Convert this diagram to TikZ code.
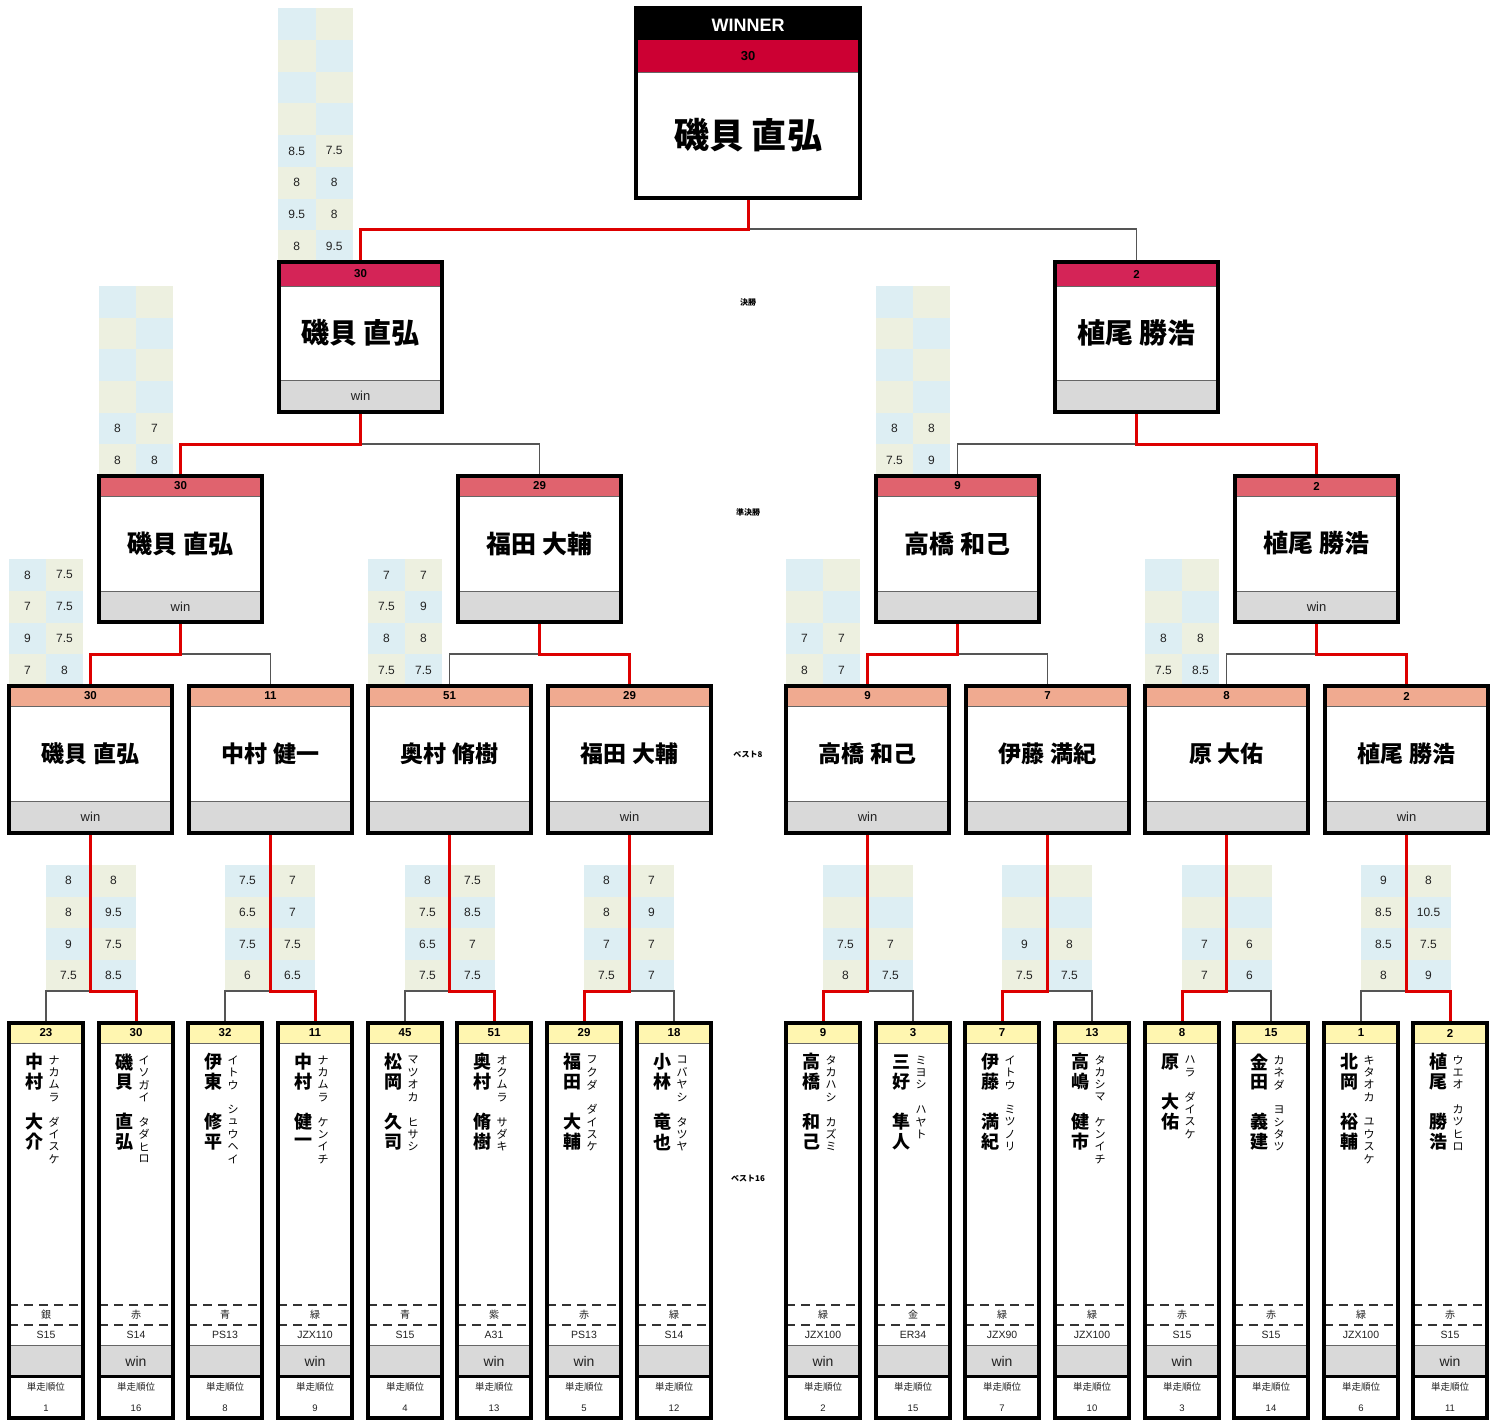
\documentclass[tikz,border=0pt]{standalone}
\usepackage{fontspec}
\setmainfont{Liberation Sans}
\newfontfamily\jp{Noto Sans CJK JP}
\definecolor{wred}{HTML}{CC0033}
\definecolor{fhead}{HTML}{D42457}
\definecolor{shead}{HTML}{E0636E}
\definecolor{ehead}{HTML}{F0AA90}
\definecolor{yhead}{HTML}{FFF6B0}
\definecolor{gfill}{HTML}{D9D9D9}
\definecolor{cblue}{HTML}{DDEEF3}
\definecolor{cbeige}{HTML}{EDF0E0}
\definecolor{lred}{HTML}{DD0000}
\definecolor{lgray}{HTML}{555555}
\definecolor{txt}{HTML}{222222}
\pgfdeclarelayer{bg}
\pgfdeclarelayer{conn}
\pgfsetlayers{bg,conn,main}
\tikzset{
 frame/.style={draw=black, line width=3.2pt, inner sep=0pt, outer sep=0pt, rectangle},
 redl/.style={draw=lred, line width=3pt},
 grayl/.style={draw=lgray, line width=1.5pt},
 sc/.style={font=\fontsize{12}{12}\selectfont, text=txt, inner sep=0pt},
 hnum/.style={font=\bfseries\fontsize{11.5}{12}\selectfont, inner sep=0pt},
 wintxt/.style={font=\fontsize{13}{13}\selectfont, text=txt, inner sep=0pt},
 kj/.style={font=\jp\bfseries\fontsize{18}{18}\selectfont, inner sep=0pt},
 kn/.style={font=\jp\fontsize{11}{11}\selectfont, inner sep=0pt},
 coltxt/.style={font=\jp\fontsize{10}{10}\selectfont, text=txt, inner sep=0pt},
 cartxt/.style={font=\fontsize{10.5}{11}\selectfont, text=txt, inner sep=0pt},
 ranklab/.style={font=\jp\fontsize{9.5}{10}\selectfont, text=txt, inner sep=0pt},
 ranknum/.style={font=\fontsize{9.5}{10}\selectfont, text=txt, inner sep=0pt},
 rlab/.style={font=\jp\bfseries\fontsize{8}{8}\selectfont, inner sep=0pt},
 dashline/.style={draw=black!80, line width=1.2pt, dash pattern=on 9pt off 6pt},
 sepline/.style={draw=black!60, line width=0.9pt},
}
% score table: #1 name, #2 x, #3 y, #4 column width, #5 row height, #6 list a/b
\newcommand\stab[6]{%
 \foreach \sa/\sb [count=\ki] in {#6} {%
  \pgfmathtruncatemacro\odd{mod(\ki,2)}%
  \ifnum\odd=1 \def\cla{cblue}\def\clb{cbeige}\else\def\cla{cbeige}\def\clb{cblue}\fi
  \fill[\cla] (#2,{#3+(\ki-1)*#5}) rectangle ({#2+#4},{#3+\ki*#5});
  \fill[\clb] ({#2+#4},{#3+(\ki-1)*#5}) rectangle ({#2+2*#4},{#3+\ki*#5});
  \node[sc] (#1a\ki) at ({#2+#4/2},{#3+(\ki-0.5)*#5}) {\sa};
  \node[sc] (#1b\ki) at ({#2+1.5*#4},{#3+(\ki-0.5)*#5}) {\sb};
 }%
}
% round box: #1 name #2 x #3 y #4 colour #5 number #6 name #7 font size #8 win
\newcommand\rbox[8]{%
 \fill[#4] (#2,#3) rectangle ({#2+163},{#3+\hdr});
 \fill[gfill] (#2,{#3+\tot-\gry}) rectangle ({#2+163},{#3+\tot});
 \draw[sepline] (#2,{#3+\hdr}) -- ++(163,0);
 \draw[sepline] (#2,{#3+\tot-\gry}) -- ++(163,0);
 \node[frame, minimum width=163pt, minimum height={\tot*1pt}, anchor=north west] (#1) at (#2,#3) {};
 \node[hnum] (#1num) at ({#2+81.5},{#3+\hdr/2}) {#5};
 \node[font=\jp\bfseries\fontsize{#7}{#7}\selectfont, inner sep=0pt] (#1name) at ({#2+81.5},{#3+(\hdr+\tot-\gry)/2}) {#6};
 \node[wintxt] (#1win) at ({#2+81.5},{#3+\tot-\gry/2}) {#8};
}
% best16 box: #1 name #2 x #3 number #4 kanji #5 kana #6 colour #7 car #8 win #9 rank
\newcommand\kbox[9]{%
 \fill[yhead] (#2,1023) rectangle ({#2+74},1043);
 \fill[gfill] (#2,1345) rectangle ({#2+74},1376);
 \draw[sepline] (#2,1043) -- ++(74,0);
 \draw[sepline] (#2,1345) -- ++(74,0);
 \draw[dashline] (#2,1305) -- ++(74,0);
 \draw[dashline] (#2,1325) -- ++(74,0);
 \draw[line width=3pt] (#2,1376) -- ++(74,0);
 \node[frame, minimum width=74pt, minimum height=395pt, anchor=north west] (#1) at (#2,1023) {};
 \node[hnum] (#1num) at ({#2+37},1033) {#3};
 \foreach \kc [count=\ki] in {#4} {\node[kj] (#1k\ki) at ({#2+25},{1062+(\ki-1)*20}) {\kc};}
 \foreach \kc [count=\ki] in {#5} {\node[kn] (#1r\ki) at ({#2+45},{1060+(\ki-1)*12.4}) {\kc};}
 \node[coltxt] (#1col) at ({#2+37},1315) {#6};
 \node[cartxt] (#1car) at ({#2+37},1335) {#7};
 \node[wintxt, font=\fontsize{14}{14}\selectfont] (#1win) at ({#2+37},1361) {#8};
 \node[ranklab] (#1lab) at ({#2+37},1387) {単走順位};
 \node[ranknum] (#1rank) at ({#2+37},1408) {#9};
}
\begin{document}
\begin{tikzpicture}[x=1pt,y=-1pt]
\useasboundingbox (0,0) rectangle (1498,1421);

% ---------- background and score tables ----------
\begin{pgfonlayer}{bg}
\fill[white] (0,0) rectangle (1498,1421);
\stab{tf}{278}{8}{37.5}{31.75}{~/~,~/~,~/~,~/~,8.5/7.5,8/8,9.5/8,8/9.5}
\stab{tsa}{99}{286}{37}{31.67}{~/~,~/~,~/~,~/~,8/7,8/8}
\stab{tsb}{876}{286}{37}{31.67}{~/~,~/~,~/~,~/~,8/8,7.5/9}
\stab{tea}{9}{559}{37}{31.75}{8/7.5,7/7.5,9/7.5,7/8}
\stab{teb}{368}{559}{37}{31.75}{7/7,7.5/9,8/8,7.5/7.5}
\stab{tec}{786}{559}{37}{31.75}{~/~,~/~,7/7,8/7}
\stab{ted}{1145}{559}{37}{31.75}{~/~,~/~,8/8,7.5/8.5}
\stab{tqa}{46}{865}{45}{31.6}{8/8,8/9.5,9/7.5,7.5/8.5}
\stab{tqb}{225}{865}{45}{31.6}{7.5/7,6.5/7,7.5/7.5,6/6.5}
\stab{tqc}{405}{865}{45}{31.6}{8/7.5,7.5/8.5,6.5/7,7.5/7.5}
\stab{tqd}{584}{865}{45}{31.6}{8/7,8/9,7/7,7.5/7}
\stab{tqe}{823}{865}{45}{31.6}{~/~,~/~,7.5/7,8/7.5}
\stab{tqf}{1002}{865}{45}{31.6}{~/~,~/~,9/8,7.5/7.5}
\stab{tqg}{1182}{865}{45}{31.6}{~/~,~/~,7/6,7/6}
\stab{tqh}{1361}{865}{45}{31.6}{9/8,8.5/10.5,8.5/7.5,8/9}
\end{pgfonlayer}

% ---------- winner ----------
\fill[black] (636,8) rectangle (860,40);
\fill[wred] (636,40) rectangle (860,72);
\draw[sepline] (636,72) -- (860,72);
\node[frame, minimum width=224pt, minimum height=190pt, anchor=north west] (w) at (636,8) {};
\node[font=\bfseries\fontsize{18}{18}\selectfont, text=white, inner sep=0pt] (wlab) at (748,25) {WINNER};
\node[font=\bfseries\fontsize{13}{13}\selectfont, inner sep=0pt] (wnum) at (748,56) {30};
\node[font=\jp\bfseries\fontsize{35}{35}\selectfont, inner sep=0pt] (wname) at (748,135) {磯貝 直弘};

% ---------- final ----------
\def\hdr{24}\def\tot{150}\def\gry{32}
\rbox{f1}{279}{262}{fhead}{30}{磯貝 直弘}{28}{win}
\rbox{f2}{1055}{262}{fhead}{2}{植尾 勝浩}{28}{}

% ---------- semi ----------
\def\hdr{20}\def\tot{146}\def\gry{31}
\rbox{s1}{99}{476}{shead}{30}{磯貝 直弘}{25}{win}
\rbox{s2}{458}{476}{shead}{29}{福田 大輔}{25}{}
\rbox{s3}{876}{476}{shead}{9}{高橋 和己}{25}{}
\rbox{s4}{1235}{476}{shead}{2}{植尾 勝浩}{25}{win}

% ---------- best 8 ----------
\def\hdr{20}\def\tot{147}\def\gry{32}
\rbox{e1}{9}{686}{ehead}{30}{磯貝 直弘}{23}{win}
\rbox{e2}{189}{686}{ehead}{11}{中村 健一}{23}{}
\rbox{e3}{368}{686}{ehead}{51}{奥村 脩樹}{23}{}
\rbox{e4}{548}{686}{ehead}{29}{福田 大輔}{23}{win}
\rbox{e5}{786}{686}{ehead}{9}{高橋 和己}{23}{win}
\rbox{e6}{966}{686}{ehead}{7}{伊藤 満紀}{23}{}
\rbox{e7}{1145}{686}{ehead}{8}{原 大佑}{23}{}
\rbox{e8}{1325}{686}{ehead}{2}{植尾 勝浩}{23}{win}

% ---------- best 16 ----------
\kbox{n1}{9}{23}{中,村,~,大,介}{ナ,カ,ム,ラ,~,ダ,イ,ス,ケ}{銀}{S15}{}{1}
\kbox{n2}{99}{30}{磯,貝,~,直,弘}{イ,ソ,ガ,イ,~,タ,ダ,ヒ,ロ}{赤}{S14}{win}{16}
\kbox{n3}{188}{32}{伊,東,~,修,平}{イ,ト,ウ,~,シ,ュ,ウ,ヘ,イ}{青}{PS13}{}{8}
\kbox{n4}{278}{11}{中,村,~,健,一}{ナ,カ,ム,ラ,~,ケ,ン,イ,チ}{緑}{JZX110}{win}{9}
\kbox{n5}{368}{45}{松,岡,~,久,司}{マ,ツ,オ,カ,~,ヒ,サ,シ}{青}{S15}{}{4}
\kbox{n6}{457}{51}{奥,村,~,脩,樹}{オ,ク,ム,ラ,~,サ,ダ,キ}{紫}{A31}{win}{13}
\kbox{n7}{547}{29}{福,田,~,大,輔}{フ,ク,ダ,~,ダ,イ,ス,ケ}{赤}{PS13}{win}{5}
\kbox{n8}{637}{18}{小,林,~,竜,也}{コ,バ,ヤ,シ,~,タ,ツ,ヤ}{緑}{S14}{}{12}
\kbox{n9}{786}{9}{高,橋,~,和,己}{タ,カ,ハ,シ,~,カ,ズ,ミ}{緑}{JZX100}{win}{2}
\kbox{n10}{876}{3}{三,好,~,隼,人}{ミ,ヨ,シ,~,ハ,ヤ,ト}{金}{ER34}{}{15}
\kbox{n11}{965}{7}{伊,藤,~,満,紀}{イ,ト,ウ,~,ミ,ツ,ノ,リ}{緑}{JZX90}{win}{7}
\kbox{n12}{1055}{13}{高,嶋,~,健,市}{タ,カ,シ,マ,~,ケ,ン,イ,チ}{緑}{JZX100}{}{10}
\kbox{n13}{1145}{8}{原,~,大,佑}{ハ,ラ,~,ダ,イ,ス,ケ}{赤}{S15}{win}{3}
\kbox{n14}{1234}{15}{金,田,~,義,建}{カ,ネ,ダ,~,ヨ,シ,タ,ツ}{赤}{S15}{}{14}
\kbox{n15}{1324}{1}{北,岡,~,裕,輔}{キ,タ,オ,カ,~,ユ,ウ,ス,ケ}{緑}{JZX100}{}{6}
\kbox{n16}{1413}{2}{植,尾,~,勝,浩}{ウ,エ,オ,~,カ,ツ,ヒ,ロ}{赤}{S15}{win}{11}

% ---------- round labels ----------
\node[rlab] (lfin) at (748,302) {決勝};
\node[rlab] (lsemi) at (748,512) {準決勝};
\node[rlab] (lb8) at (748,755) {ベスト8};
\node[rlab] (lb16) at (748,1178) {ベスト16};

% ---------- connectors ----------
\begin{pgfonlayer}{conn}
\draw[grayl] ([yshift=-31pt]w.south) -| (f2.north);
\draw[redl] (w.south) -- ++(0,31) -| (f1.north);

\draw[grayl] ([yshift=-32pt]f1.south) -| (s2.north);
\draw[redl] (f1.south) -- ++(0,32) -| (s1.north);
\draw[grayl] ([yshift=-32pt]f2.south) -| (s3.north);
\draw[redl] (f2.south) -- ++(0,32) -| (s4.north);

\draw[grayl] ([yshift=-32pt]s1.south) -| (e2.north);
\draw[redl] (s1.south) -- ++(0,32) -| (e1.north);
\draw[grayl] ([yshift=-32pt]s2.south) -| (e3.north);
\draw[redl] (s2.south) -- ++(0,32) -| (e4.north);
\draw[grayl] ([yshift=-32pt]s3.south) -| (e6.north);
\draw[redl] (s3.south) -- ++(0,32) -| (e5.north);
\draw[grayl] ([yshift=-32pt]s4.south) -| (e7.north);
\draw[redl] (s4.south) -- ++(0,32) -| (e8.north);

\draw[grayl] ([yshift=-158pt]e1.south) -| (n1.north);
\draw[redl] (e1.south) -- ++(0,158) -| (n2.north);
\draw[grayl] ([yshift=-158pt]e2.south) -| (n3.north);
\draw[redl] (e2.south) -- ++(0,158) -| (n4.north);
\draw[grayl] ([yshift=-158pt]e3.south) -| (n5.north);
\draw[redl] (e3.south) -- ++(0,158) -| (n6.north);
\draw[grayl] ([yshift=-158pt]e4.south) -| (n8.north);
\draw[redl] (e4.south) -- ++(0,158) -| (n7.north);
\draw[grayl] ([yshift=-158pt]e5.south) -| (n10.north);
\draw[redl] (e5.south) -- ++(0,158) -| (n9.north);
\draw[grayl] ([yshift=-158pt]e6.south) -| (n12.north);
\draw[redl] (e6.south) -- ++(0,158) -| (n11.north);
\draw[grayl] ([yshift=-158pt]e7.south) -| (n14.north);
\draw[redl] (e7.south) -- ++(0,158) -| (n13.north);
\draw[grayl] ([yshift=-158pt]e8.south) -| (n15.north);
\draw[redl] (e8.south) -- ++(0,158) -| (n16.north);
\end{pgfonlayer}
\end{tikzpicture}
\end{document}
